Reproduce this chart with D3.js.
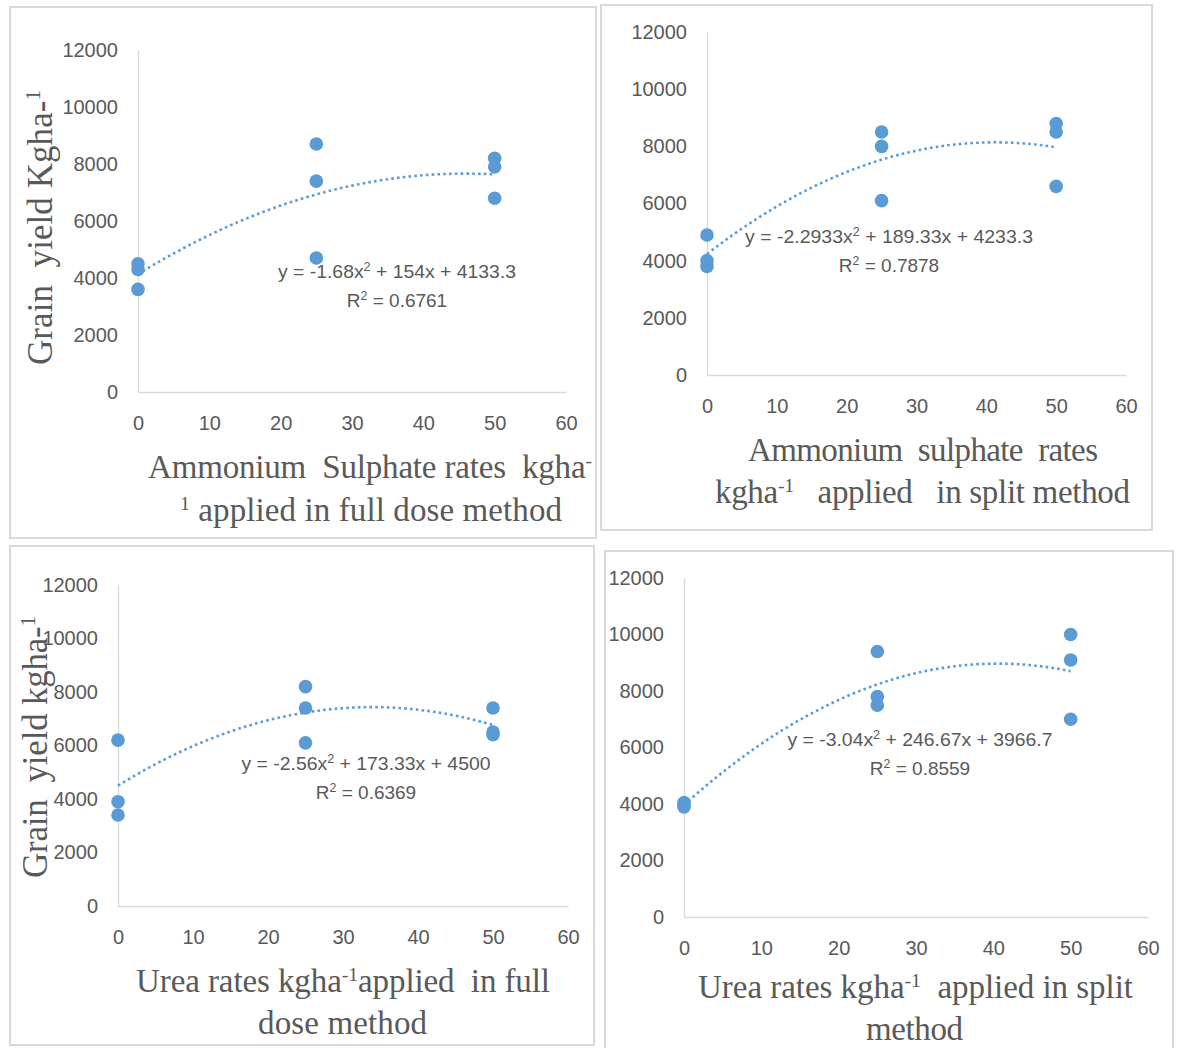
<!DOCTYPE html>
<html>
<head>
<meta charset="utf-8">
<script src="https://cdn.jsdelivr.net/npm/d3@7"></script>
<style>
  html, body { margin: 0; padding: 0; background: #fff; }
  svg { display: block; }
</style>
</head>
<body>
<svg id="chart" width="1181" height="1048"></svg>
<script>
// ---------- data ----------
const xTickValues = [0, 10, 20, 30, 40, 50, 60];
const yTickValues = [0, 2000, 4000, 6000, 8000, 10000, 12000];
const rates = [0, 25, 50];

// grain yield (kg/ha), three replicates per rate
const asFullYield  = [[4500, 4300, 3600], [8700, 7400, 4700], [8200, 7900, 6800]];
const asSplitYield = [[4900, 4000, 3800], [8500, 8000, 6100], [8800, 8500, 6600]];
const ureaFullYield  = [[6200, 3900, 3400], [8200, 7400, 6100], [7400, 6500, 6400]];
const ureaSplitYield = [[4050, 3950, 3900], [9400, 7800, 7500], [10000, 9100, 7000]];

// quadratic trendline coefficients [a, b, c] for y = a x^2 + b x + c
const asFullFit   = [-1.68, 154, 4133.3];
const asSplitFit  = [-2.2933, 189.33, 4233.3];
const ureaFullFit = [-2.56, 173.33, 4500];
const ureaSplitFit = [-3.04, 246.67, 3966.7];

// equation label pieces: [before "2", after "2"]
const equationLabels = [
  ["y = -1.68x", " + 154x + 4133.3"],
  ["y = -2.2933x", " + 189.33x + 4233.3"],
  ["y = -2.56x", " + 173.33x + 4500"],
  ["y = -3.04x", " + 246.67x + 3966.7"]
];
const r2Labels = ["0.6761", "0.7878", "0.6369", "0.8559"];

// ---------- layout ----------
const svg = d3.select("#chart");
const dotColor = "#5b9bd5";
const textColor = "#595959";
const axisColor = "#d9d9d9";
const sansFont = "'Liberation Sans', Arial, sans-serif";
const serifFont = "'Liberation Serif', 'Times New Roman', serif";

const panels = [
  { box: [10, 7, 596, 538], x0: 138, x1: 566, yTop: 50, yBot: 392,
    yield: asFullYield, fit: asFullFit, eq: equationLabels[0], r2: r2Labels[0],
    eqX: 397, eqY: 278, eqLen: 238,
    ytitle: { x: 52, y: 365, len: 275, parts: [["Grain  yield Kgha-", 0], ["1", 1]] },
    xtitle: [
      { x: 148, y: 478, len: 444, parts: [["Ammonium  Sulphate rates  kgha", 0], ["-", 1]] },
      { x: 180, y: 521, len: 382, parts: [["1", 1], [" applied in full dose method", 0]] }
    ] },
  { box: [601, 5, 1152, 530], x0: 707, x1: 1126, yTop: 32, yBot: 375,
    yield: asSplitYield, fit: asSplitFit, eq: equationLabels[1], r2: r2Labels[1],
    eqX: 889, eqY: 243, eqLen: 288,
    ytitle: null,
    xtitle: [
      { x: 748, y: 461, len: 350, parts: [["Ammonium  sulphate  rates", 0]] },
      { x: 715, y: 503, len: 415, parts: [["kgha", 0], ["-1", 1], ["   applied   in split method", 0]] }
    ] },
  { box: [10, 546, 594, 1045], x0: 118, x1: 568, yTop: 585, yBot: 906,
    yield: ureaFullYield, fit: ureaFullFit, eq: equationLabels[2], r2: r2Labels[2],
    eqX: 366, eqY: 770, eqLen: 249,
    ytitle: { x: 47, y: 878, len: 262, parts: [["Grain  yield kgha-", 0], ["1", 1]] },
    xtitle: [
      { x: 136, y: 992, len: 414, parts: [["Urea rates kgha", 0], ["-1", 1], ["applied  in full", 0]] },
      { x: 258, y: 1034, len: 169, parts: [["dose method", 0]] }
    ] },
  { box: [605, 551, 1173, 1052], x0: 684, x1: 1148, yTop: 578, yBot: 917,
    yield: ureaSplitYield, fit: ureaSplitFit, eq: equationLabels[3], r2: r2Labels[3],
    eqX: 920, eqY: 746, eqLen: 265,
    ytitle: null,
    xtitle: [
      { x: 698, y: 998, len: 435, parts: [["Urea rates kgha", 0], ["-1", 1], ["  applied in split", 0]] },
      { x: 866, y: 1040, len: 97, parts: [["method", 0]] }
    ] }
];

function addRichText(g, spec, rotate) {
  const t = g.append("text")
    .attr("font-family", serifFont)
    .attr("font-size", 33)
    .attr("fill", textColor)
    .attr("xml:space", "preserve")
    .style("white-space", "pre")
    .attr("textLength", spec.len)
    .attr("lengthAdjust", "spacing");
  if (rotate) {
    t.attr("font-size", 35)
     .attr("transform", `translate(${spec.x},${spec.y}) rotate(-90)`);
  } else {
    t.attr("x", spec.x).attr("y", spec.y);
  }
  spec.parts.forEach(([s, sup]) => {
    const ts = t.append("tspan").text(s);
    if (sup) ts.attr("font-size", "60%").attr("baseline-shift", "super");
  });
}

panels.forEach(p => {
  const g = svg.append("g");
  const [bx0, by0, bx1, by1] = p.box;
  g.append("rect")
    .attr("x", bx0).attr("y", by0)
    .attr("width", bx1 - bx0).attr("height", by1 - by0)
    .attr("fill", "#fff").attr("stroke", axisColor).attr("stroke-width", 2);

  const x = d3.scaleLinear().domain([0, 60]).range([p.x0, p.x1]);
  const y = d3.scaleLinear().domain([0, 12000]).range([p.yBot, p.yTop]);

  // y axis
  const yAxis = g.append("g").attr("transform", `translate(${p.x0},0)`)
    .call(d3.axisLeft(y).tickValues(yTickValues).tickSize(0).tickPadding(20).tickFormat(d3.format("d")));
  yAxis.select(".domain").attr("stroke", axisColor).attr("stroke-width", 1.3);
  yAxis.selectAll("text")
    .attr("font-family", sansFont)
    .attr("font-size", 20).attr("fill", textColor);

  // x axis
  const xAxis = g.append("g").attr("transform", `translate(0,${p.yBot})`)
    .call(d3.axisBottom(x).tickValues(xTickValues).tickSize(0).tickPadding(24).tickFormat(d3.format("d")));
  xAxis.select(".domain").attr("stroke", axisColor).attr("stroke-width", 1.3);
  xAxis.selectAll("text")
    .attr("font-family", sansFont)
    .attr("font-size", 20).attr("fill", textColor);

  // points
  const pts = [];
  rates.forEach((r, i) => p.yield[i].forEach(v => pts.push([r, v])));
  g.selectAll("circle.pt").data(pts).join("circle")
    .attr("class", "pt")
    .attr("cx", d => x(d[0])).attr("cy", d => y(d[1]))
    .attr("r", 6.8).attr("fill", dotColor);

  // trendline
  const [a, b, c] = p.fit;
  const curve = d3.range(0, 50.001, 0.5).map(v => [v, a * v * v + b * v + c]);
  g.append("path")
    .datum(curve)
    .attr("d", d3.line().x(d => x(d[0])).y(d => y(d[1])))
    .attr("fill", "none").attr("stroke", dotColor)
    .attr("stroke-width", 2.6)
    .attr("stroke-dasharray", "2.6 3.2");

  // equation labels
  const eq = g.append("text").attr("x", p.eqX - p.eqLen / 2).attr("y", p.eqY)
    .attr("font-family", sansFont)
    .attr("font-size", 19).attr("fill", textColor)
    .attr("textLength", p.eqLen).attr("lengthAdjust", "spacingAndGlyphs");
  eq.append("tspan").text(p.eq[0]);
  eq.append("tspan").attr("font-size", "65%").attr("baseline-shift", "super").text("2");
  eq.append("tspan").text(p.eq[1]);

  const r2 = g.append("text").attr("x", p.eqX).attr("y", p.eqY + 29)
    .attr("text-anchor", "middle")
    .attr("font-family", sansFont)
    .attr("font-size", 19).attr("fill", textColor);
  r2.append("tspan").text("R");
  r2.append("tspan").attr("font-size", "65%").attr("baseline-shift", "super").text("2");
  r2.append("tspan").text(" = " + p.r2);

  // titles
  if (p.ytitle) addRichText(g, p.ytitle, true);
  p.xtitle.forEach(s => addRichText(g, s, false));
});
</script>
</body>
</html>
